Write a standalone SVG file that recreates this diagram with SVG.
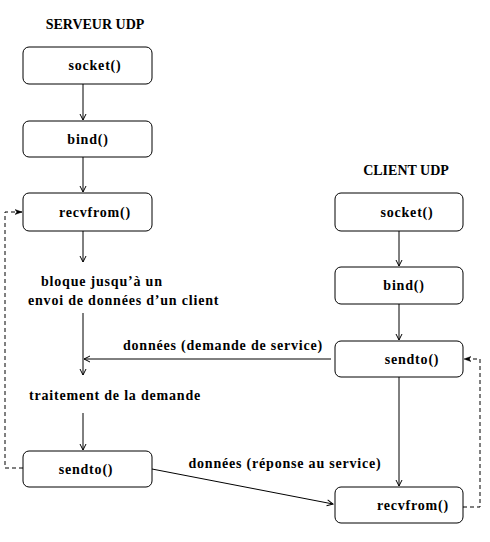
<svg xmlns="http://www.w3.org/2000/svg" width="490" height="542" viewBox="0 0 490 542">
<defs>
<style>
.box{fill:#fff;stroke:#000;stroke-width:1}
.t{font-family:"Liberation Serif","Times New Roman",serif;font-weight:bold;font-size:14px;letter-spacing:0.8px;fill:#000}
.h{font-family:"Liberation Serif","Times New Roman",serif;font-weight:bold;font-size:14px;fill:#000}
.ln{stroke:#000;stroke-width:1;fill:none}
.dl{stroke:#000;stroke-width:1;fill:none;stroke-dasharray:4,3}
</style>
<marker id="v" markerWidth="10" markerHeight="8" refX="7" refY="4" orient="auto" markerUnits="userSpaceOnUse">
<path d="M1,1 L7,4 L1,7" fill="none" stroke="#000" stroke-width="1"/>
</marker>
<marker id="f" markerWidth="10" markerHeight="8" refX="7" refY="4" orient="auto" markerUnits="userSpaceOnUse">
<path d="M0,1.5 L7,4 L0,6.5 L2,4 Z" fill="#000" stroke="#000" stroke-width="0.5"/>
</marker>
</defs>
<rect width="490" height="542" fill="#fff"/>
<text class="h" x="95" y="29" text-anchor="middle">SERVEUR UDP</text>
<text class="h" x="406" y="175" text-anchor="middle">CLIENT UDP</text>
<g id="connectors">
<line class="ln" x1="83" y1="84" x2="83" y2="120" marker-end="url(#v)"/>
<line class="ln" x1="83" y1="157" x2="83" y2="192" marker-end="url(#v)"/>
<line class="ln" x1="83" y1="231" x2="83" y2="262" marker-end="url(#v)"/>
<line class="ln" x1="83" y1="313" x2="83" y2="375" marker-end="url(#v)"/>
<line class="ln" x1="83" y1="413" x2="83" y2="450" marker-end="url(#v)"/>
<line class="ln" x1="399" y1="231" x2="399" y2="266" marker-end="url(#v)"/>
<line class="ln" x1="399" y1="304" x2="399" y2="340" marker-end="url(#v)"/>
<line class="ln" x1="399" y1="377" x2="399" y2="486" marker-end="url(#v)"/>
<line class="ln" x1="331" y1="359" x2="84" y2="359" marker-end="url(#v)"/>
<line class="ln" x1="152" y1="469" x2="333" y2="504" marker-end="url(#v)"/>
<polyline class="dl" points="23,468 5,468 5,212 22,212" marker-end="url(#f)"/>
<polyline class="dl" points="463,507 480,507 480,359 464,359" marker-end="url(#f)"/>
</g>
<g id="s_socket"><rect class="box" x="23" y="47" width="129" height="37" rx="6"/><text class="t" x="95" y="70" text-anchor="middle">socket()</text></g>
<g id="s_bind"><rect class="box" x="23" y="121" width="129" height="36" rx="6"/><text class="t" x="88" y="144" text-anchor="middle">bind()</text></g>
<g id="s_recvfrom"><rect class="box" x="23" y="193" width="129" height="38" rx="6"/><text class="t" x="95" y="217" text-anchor="middle">recvfrom()</text></g>
<g id="s_block"><text class="t" x="41" y="286">bloque jusqu’à un</text><text class="t" x="28" y="305">envoi de données d’un client</text></g>
<g id="s_trait"><text class="t" x="29" y="400">traitement de la demande</text></g>
<g id="s_sendto"><rect class="box" x="23" y="451" width="129" height="36" rx="6"/><text class="t" x="86" y="474" text-anchor="middle">sendto()</text></g>
<g id="c_socket"><rect class="box" x="335" y="193" width="128" height="38" rx="6"/><text class="t" x="407" y="217" text-anchor="middle">socket()</text></g>
<g id="c_bind"><rect class="box" x="335" y="267" width="128" height="37" rx="6"/><text class="t" x="404" y="290" text-anchor="middle">bind()</text></g>
<g id="c_sendto"><rect class="box" x="335" y="341" width="128" height="36" rx="6"/><text class="t" x="412" y="364" text-anchor="middle">sendto()</text></g>
<g id="c_recvfrom"><rect class="box" x="335" y="487" width="128" height="36" rx="6"/><text class="t" x="413" y="510" text-anchor="middle">recvfrom()</text></g>
<text class="t" x="223" y="350" text-anchor="middle">données (demande de service)</text>
<text class="t" x="285" y="468" text-anchor="middle">données (réponse au service)</text>
</svg>
